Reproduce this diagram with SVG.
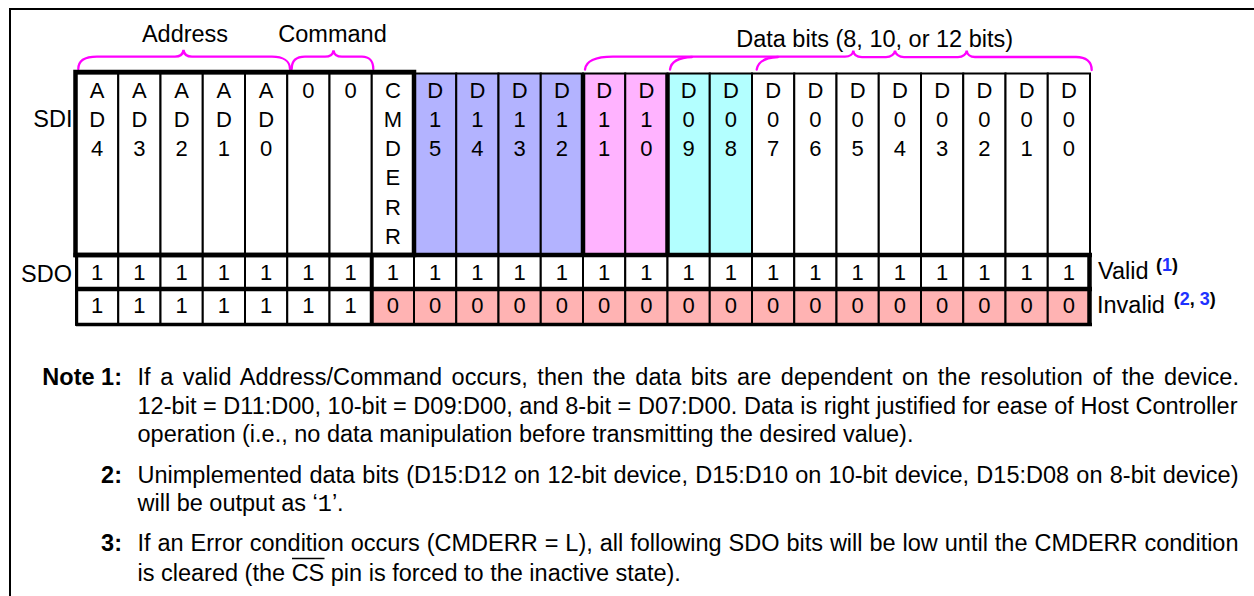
<svg xmlns="http://www.w3.org/2000/svg" width="1254" height="596" viewBox="0 0 1254 596">
<style>
.t{font-family:"Liberation Sans",Arial,Helvetica,sans-serif;fill:#000}
.ct{font-size:22px;text-anchor:middle}
.lbl{font-size:23.5px}
.mid{text-anchor:middle}
.end{text-anchor:end}
.note{font-size:23.5px}
.nb{font-weight:bold;text-anchor:end}
.sup{font-size:18px;font-weight:bold}
.blue{fill:#1e32ff}
.mono{font-family:"Liberation Mono","Courier New",monospace}
.cw,.cp,.ck,.cc,.cs{stroke:#000;stroke-width:2}
.cw{fill:#fff}.cp{fill:#b3b3ff}.ck{fill:#ffb3ff}.cc{fill:#b3ffff}.cs{fill:#ffb3b3}
.thick{stroke:#000;stroke-width:4.5;fill:none}
.brace{fill:none;stroke:#ff00ff;stroke-width:2.3;stroke-linecap:round}
.frame{fill:none;stroke:#000;stroke-width:2}
</style>
<rect width="1254" height="596" fill="#fff"/>
<rect class="frame" x="10" y="9" width="1300" height="700"/>

<g id="labels">
<text class="t lbl mid" x="185" y="41.7">Address</text>
<text class="t lbl mid" x="332.5" y="41.7">Command</text>
<text class="t lbl" x="736.2" y="47.3">Data bits (8, 10, or 12 bits)</text>
<text class="t lbl end" x="72.5" y="126.5">SDI</text>
<text class="t lbl end" x="72" y="282.3">SDO</text>
<text class="t lbl" x="1098" y="279">Valid</text>
<text class="t sup" x="1156" y="270.5">(<tspan class="blue">1</tspan>)</text>
<text class="t lbl" x="1097" y="313">Invalid</text>
<text class="t sup" x="1173.7" y="305">(<tspan class="blue">2</tspan>, <tspan class="blue">3</tspan>)</text>
</g>

<g id="connectors">
<path class="brace" d="M78.3,69 C78.3,61 85,56.7 97,56.7 L175,56.7 C180,56.7 183,54 183.5,50 C184,54 187,56.7 192,56.7 L272,56.7 C283,56.7 290,61 290,69"/>
<path class="brace" d="M291.7,69 C291.7,61 296,56.7 305,56.7 L325,56.7 C330,56.7 333,54 333.5,50.5 C334,54 337,56.7 342,56.7 L362,56.7 C369,56.7 373.3,61 373.3,69"/>
<path class="brace" d="M585,69.5 C586,61 595,56.7 613,56.7 L845,56.7 C850,56.7 853,54 853.3,50.7 C853.6,54 856,57.2 862,57.2 L886,57.2 C891,57.2 894.7,54 895,50.7 C895.3,54 899,57.2 904,57.2 L958,57.2 C963,57.2 966.4,54 966.7,50.7 C967,54 970,57 975,57 L1076,57 C1086,57 1091.7,62 1091.7,70"/>
<path class="brace" d="M670,69.5 C671,62 678,57.5 692,57"/>
<path class="brace" d="M756.7,69.5 C758,62 765,57.5 778,57"/>
</g>

<g id="sdi">
<g id="sdi-ad4"><rect class="cw" x="76" y="73.5" width="42.25" height="181.5"/><text class="t ct"><tspan x="97.1" y="97.5">A</tspan><tspan x="97.1" y="126.8">D</tspan><tspan x="97.1" y="156.1">4</tspan></text></g>
<g id="sdi-ad3"><rect class="cw" x="118.25" y="73.5" width="42.25" height="181.5"/><text class="t ct"><tspan x="139.4" y="97.5">A</tspan><tspan x="139.4" y="126.8">D</tspan><tspan x="139.4" y="156.1">3</tspan></text></g>
<g id="sdi-ad2"><rect class="cw" x="160.5" y="73.5" width="42.25" height="181.5"/><text class="t ct"><tspan x="181.6" y="97.5">A</tspan><tspan x="181.6" y="126.8">D</tspan><tspan x="181.6" y="156.1">2</tspan></text></g>
<g id="sdi-ad1"><rect class="cw" x="202.75" y="73.5" width="42.25" height="181.5"/><text class="t ct"><tspan x="223.9" y="97.5">A</tspan><tspan x="223.9" y="126.8">D</tspan><tspan x="223.9" y="156.1">1</tspan></text></g>
<g id="sdi-ad0"><rect class="cw" x="245" y="73.5" width="42.25" height="181.5"/><text class="t ct"><tspan x="266.1" y="97.5">A</tspan><tspan x="266.1" y="126.8">D</tspan><tspan x="266.1" y="156.1">0</tspan></text></g>
<g id="sdi-c1"><rect class="cw" x="287.25" y="73.5" width="42.25" height="181.5"/><text class="t ct" x="308.4" y="97.5">0</text></g>
<g id="sdi-c0"><rect class="cw" x="329.5" y="73.5" width="42.25" height="181.5"/><text class="t ct" x="350.6" y="97.5">0</text></g>
<g id="sdi-cmderr"><rect class="cw" x="371.75" y="73.5" width="42.25" height="181.5"/><text class="t ct"><tspan x="392.9" y="97.5">C</tspan><tspan x="392.9" y="126.8">M</tspan><tspan x="392.9" y="156.1">D</tspan><tspan x="392.9" y="185.4">E</tspan><tspan x="392.9" y="214.7">R</tspan><tspan x="392.9" y="244">R</tspan></text></g>
<g id="sdi-d15"><rect class="cp" x="414" y="73.5" width="42.25" height="181.5"/><text class="t ct"><tspan x="435.1" y="97.5">D</tspan><tspan x="435.1" y="126.8">1</tspan><tspan x="435.1" y="156.1">5</tspan></text></g>
<g id="sdi-d14"><rect class="cp" x="456.25" y="73.5" width="42.25" height="181.5"/><text class="t ct"><tspan x="477.4" y="97.5">D</tspan><tspan x="477.4" y="126.8">1</tspan><tspan x="477.4" y="156.1">4</tspan></text></g>
<g id="sdi-d13"><rect class="cp" x="498.5" y="73.5" width="42.25" height="181.5"/><text class="t ct"><tspan x="519.6" y="97.5">D</tspan><tspan x="519.6" y="126.8">1</tspan><tspan x="519.6" y="156.1">3</tspan></text></g>
<g id="sdi-d12"><rect class="cp" x="540.75" y="73.5" width="42.25" height="181.5"/><text class="t ct"><tspan x="561.9" y="97.5">D</tspan><tspan x="561.9" y="126.8">1</tspan><tspan x="561.9" y="156.1">2</tspan></text></g>
<g id="sdi-d11"><rect class="ck" x="583" y="73.5" width="42.25" height="181.5"/><text class="t ct"><tspan x="604.1" y="97.5">D</tspan><tspan x="604.1" y="126.8">1</tspan><tspan x="604.1" y="156.1">1</tspan></text></g>
<g id="sdi-d10"><rect class="ck" x="625.25" y="73.5" width="42.25" height="181.5"/><text class="t ct"><tspan x="646.4" y="97.5">D</tspan><tspan x="646.4" y="126.8">1</tspan><tspan x="646.4" y="156.1">0</tspan></text></g>
<g id="sdi-d09"><rect class="cc" x="667.5" y="73.5" width="42.25" height="181.5"/><text class="t ct"><tspan x="688.6" y="97.5">D</tspan><tspan x="688.6" y="126.8">0</tspan><tspan x="688.6" y="156.1">9</tspan></text></g>
<g id="sdi-d08"><rect class="cc" x="709.75" y="73.5" width="42.25" height="181.5"/><text class="t ct"><tspan x="730.9" y="97.5">D</tspan><tspan x="730.9" y="126.8">0</tspan><tspan x="730.9" y="156.1">8</tspan></text></g>
<g id="sdi-d07"><rect class="cw" x="752" y="73.5" width="42.25" height="181.5"/><text class="t ct"><tspan x="773.1" y="97.5">D</tspan><tspan x="773.1" y="126.8">0</tspan><tspan x="773.1" y="156.1">7</tspan></text></g>
<g id="sdi-d06"><rect class="cw" x="794.25" y="73.5" width="42.25" height="181.5"/><text class="t ct"><tspan x="815.4" y="97.5">D</tspan><tspan x="815.4" y="126.8">0</tspan><tspan x="815.4" y="156.1">6</tspan></text></g>
<g id="sdi-d05"><rect class="cw" x="836.5" y="73.5" width="42.25" height="181.5"/><text class="t ct"><tspan x="857.6" y="97.5">D</tspan><tspan x="857.6" y="126.8">0</tspan><tspan x="857.6" y="156.1">5</tspan></text></g>
<g id="sdi-d04"><rect class="cw" x="878.75" y="73.5" width="42.25" height="181.5"/><text class="t ct"><tspan x="899.9" y="97.5">D</tspan><tspan x="899.9" y="126.8">0</tspan><tspan x="899.9" y="156.1">4</tspan></text></g>
<g id="sdi-d03"><rect class="cw" x="921" y="73.5" width="42.25" height="181.5"/><text class="t ct"><tspan x="942.1" y="97.5">D</tspan><tspan x="942.1" y="126.8">0</tspan><tspan x="942.1" y="156.1">3</tspan></text></g>
<g id="sdi-d02"><rect class="cw" x="963.25" y="73.5" width="42.25" height="181.5"/><text class="t ct"><tspan x="984.4" y="97.5">D</tspan><tspan x="984.4" y="126.8">0</tspan><tspan x="984.4" y="156.1">2</tspan></text></g>
<g id="sdi-d01"><rect class="cw" x="1005.5" y="73.5" width="42.25" height="181.5"/><text class="t ct"><tspan x="1026.6" y="97.5">D</tspan><tspan x="1026.6" y="126.8">0</tspan><tspan x="1026.6" y="156.1">1</tspan></text></g>
<g id="sdi-d00"><rect class="cw" x="1047.75" y="73.5" width="42.25" height="181.5"/><text class="t ct"><tspan x="1068.9" y="97.5">D</tspan><tspan x="1068.9" y="126.8">0</tspan><tspan x="1068.9" y="156.1">0</tspan></text></g>
</g>

<g id="sdo-valid">
<rect class="cw" x="76" y="255" width="42.25" height="34"/><rect class="cw" x="118.25" y="255" width="42.25" height="34"/><rect class="cw" x="160.5" y="255" width="42.25" height="34"/><rect class="cw" x="202.75" y="255" width="42.25" height="34"/><rect class="cw" x="245" y="255" width="42.25" height="34"/><rect class="cw" x="287.25" y="255" width="42.25" height="34"/><rect class="cw" x="329.5" y="255" width="42.25" height="34"/><rect class="cw" x="371.75" y="255" width="42.25" height="34"/><rect class="cw" x="414" y="255" width="42.25" height="34"/><rect class="cw" x="456.25" y="255" width="42.25" height="34"/><rect class="cw" x="498.5" y="255" width="42.25" height="34"/><rect class="cw" x="540.75" y="255" width="42.25" height="34"/><rect class="cw" x="583" y="255" width="42.25" height="34"/><rect class="cw" x="625.25" y="255" width="42.25" height="34"/><rect class="cw" x="667.5" y="255" width="42.25" height="34"/><rect class="cw" x="709.75" y="255" width="42.25" height="34"/><rect class="cw" x="752" y="255" width="42.25" height="34"/><rect class="cw" x="794.25" y="255" width="42.25" height="34"/><rect class="cw" x="836.5" y="255" width="42.25" height="34"/><rect class="cw" x="878.75" y="255" width="42.25" height="34"/><rect class="cw" x="921" y="255" width="42.25" height="34"/><rect class="cw" x="963.25" y="255" width="42.25" height="34"/><rect class="cw" x="1005.5" y="255" width="42.25" height="34"/><rect class="cw" x="1047.75" y="255" width="42.25" height="34"/>
<text class="t ct" y="280"><tspan x="97.1">1</tspan><tspan x="139.4">1</tspan><tspan x="181.6">1</tspan><tspan x="223.9">1</tspan><tspan x="266.1">1</tspan><tspan x="308.4">1</tspan><tspan x="350.6">1</tspan><tspan x="392.9">1</tspan><tspan x="435.1">1</tspan><tspan x="477.4">1</tspan><tspan x="519.6">1</tspan><tspan x="561.9">1</tspan><tspan x="604.1">1</tspan><tspan x="646.4">1</tspan><tspan x="688.6">1</tspan><tspan x="730.9">1</tspan><tspan x="773.1">1</tspan><tspan x="815.4">1</tspan><tspan x="857.6">1</tspan><tspan x="899.9">1</tspan><tspan x="942.1">1</tspan><tspan x="984.4">1</tspan><tspan x="1026.6">1</tspan><tspan x="1068.9">1</tspan></text>
</g>

<g id="sdo-invalid">
<rect class="cw" x="76" y="289" width="42.25" height="35.5"/><rect class="cw" x="118.25" y="289" width="42.25" height="35.5"/><rect class="cw" x="160.5" y="289" width="42.25" height="35.5"/><rect class="cw" x="202.75" y="289" width="42.25" height="35.5"/><rect class="cw" x="245" y="289" width="42.25" height="35.5"/><rect class="cw" x="287.25" y="289" width="42.25" height="35.5"/><rect class="cw" x="329.5" y="289" width="42.25" height="35.5"/><rect class="cs" x="371.75" y="289" width="42.25" height="35.5"/><rect class="cs" x="414" y="289" width="42.25" height="35.5"/><rect class="cs" x="456.25" y="289" width="42.25" height="35.5"/><rect class="cs" x="498.5" y="289" width="42.25" height="35.5"/><rect class="cs" x="540.75" y="289" width="42.25" height="35.5"/><rect class="cs" x="583" y="289" width="42.25" height="35.5"/><rect class="cs" x="625.25" y="289" width="42.25" height="35.5"/><rect class="cs" x="667.5" y="289" width="42.25" height="35.5"/><rect class="cs" x="709.75" y="289" width="42.25" height="35.5"/><rect class="cs" x="752" y="289" width="42.25" height="35.5"/><rect class="cs" x="794.25" y="289" width="42.25" height="35.5"/><rect class="cs" x="836.5" y="289" width="42.25" height="35.5"/><rect class="cs" x="878.75" y="289" width="42.25" height="35.5"/><rect class="cs" x="921" y="289" width="42.25" height="35.5"/><rect class="cs" x="963.25" y="289" width="42.25" height="35.5"/><rect class="cs" x="1005.5" y="289" width="42.25" height="35.5"/><rect class="cs" x="1047.75" y="289" width="42.25" height="35.5"/>
<text class="t ct" y="313"><tspan x="97.1">1</tspan><tspan x="139.4">1</tspan><tspan x="181.6">1</tspan><tspan x="223.9">1</tspan><tspan x="266.1">1</tspan><tspan x="308.4">1</tspan><tspan x="350.6">1</tspan><tspan x="392.9">0</tspan><tspan x="435.1">0</tspan><tspan x="477.4">0</tspan><tspan x="519.6">0</tspan><tspan x="561.9">0</tspan><tspan x="604.1">0</tspan><tspan x="646.4">0</tspan><tspan x="688.6">0</tspan><tspan x="730.9">0</tspan><tspan x="773.1">0</tspan><tspan x="815.4">0</tspan><tspan x="857.6">0</tspan><tspan x="899.9">0</tspan><tspan x="942.1">0</tspan><tspan x="984.4">0</tspan><tspan x="1026.6">0</tspan><tspan x="1068.9">0</tspan></text>
</g>

<g id="borders">
<rect class="thick" x="75.5" y="72" width="338.5" height="183"/>
<line class="thick" x1="583" y1="73" x2="583" y2="256"/>
<line class="thick" x1="667.5" y1="73" x2="667.5" y2="256"/>
<line class="thick" x1="73.5" y1="255" x2="1092" y2="255"/>
<line class="thick" x1="76" y1="289" x2="1092" y2="289"/>
<line class="thick" x1="76" y1="324.5" x2="1092" y2="324.5" style="stroke-width:3.5"/>
<line class="thick" x1="76.7" y1="255" x2="76.7" y2="326" style="stroke-width:3"/>
<line class="thick" x1="371.75" y1="255" x2="371.75" y2="326" style="stroke-width:4"/>
<line class="thick" x1="1089.5" y1="255" x2="1089.5" y2="326"/>
</g>

<g id="notes">
<text class="t note nb" x="122" y="385">Note 1:</text>
<text class="t note" x="137.5" y="385" word-spacing="2.85" textLength="1101.5" lengthAdjust="spacing">If a valid Address/Command occurs, then the data bits are dependent on the resolution of the device.</text>
<text class="t note" x="137.5" y="413.5" textLength="1100" lengthAdjust="spacing">12-bit = D11:D00, 10-bit = D09:D00, and 8-bit = D07:D00. Data is right justified for ease of Host Controller</text>
<text class="t note" x="137.5" y="442">operation (i.e., no data manipulation before transmitting the desired value).</text>
<text class="t note nb" x="122" y="482.5">2:</text>
<text class="t note" x="137.5" y="482.5" word-spacing="0.7" textLength="1101" lengthAdjust="spacing">Unimplemented data bits (D15:D12 on 12-bit device, D15:D10 on 10-bit device, D15:D08 on 8-bit device)</text>
<text class="t note" x="137.5" y="511">will be output as ‘<tspan class="mono">1</tspan>’.</text>
<text class="t note nb" x="122" y="551">3:</text>
<text class="t note" x="137.5" y="551" word-spacing="0.45" textLength="1101" lengthAdjust="spacing">If an Error condition occurs (CMDERR = L), all following SDO bits will be low until the CMDERR condition</text>
<text class="t note" x="137.5" y="580.5">is cleared (the CS pin is forced to the inactive state).</text>
<line x1="292" y1="558.5" x2="324.5" y2="558.5" stroke="#000" stroke-width="1.6"/>
</g>
</svg>
